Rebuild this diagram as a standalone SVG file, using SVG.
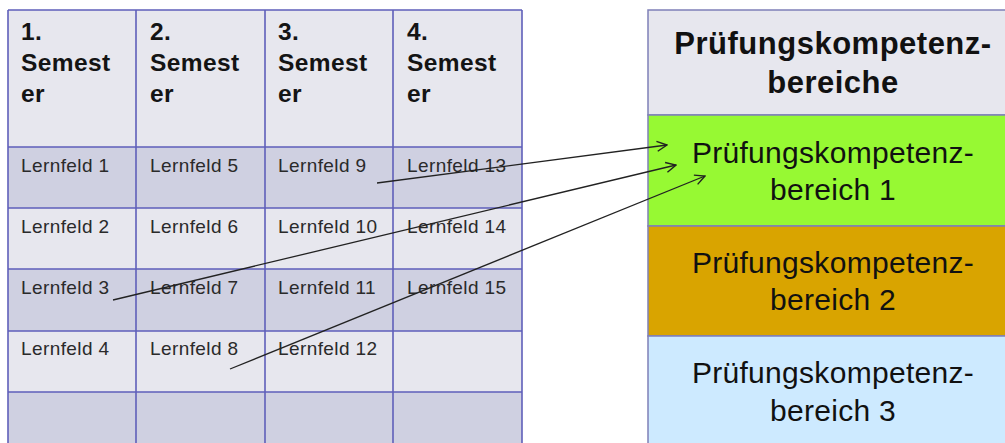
<svg xmlns="http://www.w3.org/2000/svg" width="1005" height="443" viewBox="0 0 1005 443">
  <defs>
    <style>
      .hd { fill: #e7e7ee; }
      .lt { fill: #e7e7ee; }
      .dk { fill: #cfd0e1; }
      .grid { stroke: #5f5fba; stroke-width: 1.6; fill: none; }
      .sem { font-family: "Liberation Sans", Arial, sans-serif; font-weight: bold; font-size: 24.5px; letter-spacing: 0.4px; fill: #141414; }
      .lf { font-family: "Liberation Sans", Arial, sans-serif; font-size: 19px; letter-spacing: 0.4px; fill: #2a2a2a; }
      .pkh { font-family: "Liberation Sans", Arial, sans-serif; font-weight: bold; font-size: 31px; letter-spacing: 0.5px; fill: #111; text-anchor: middle; }
      .pk { font-family: "Liberation Sans", Arial, sans-serif; font-size: 30px; letter-spacing: 0.3px; fill: #111; text-anchor: middle; }
      .box { stroke: #7f80b8; stroke-width: 1.5; }
      .conn { stroke: #222; stroke-width: 1.3; fill: none; marker-end: url(#arr); }
    </style>
    <marker id="arr" viewBox="0 0 12 12" refX="11" refY="6" markerWidth="12" markerHeight="12" markerUnits="userSpaceOnUse" orient="auto">
      <path d="M1,1 L11,6 L1,11" fill="none" stroke="#222" stroke-width="1.4"/>
    </marker>
  </defs>

  <g id="semester-table">
    <rect class="hd" x="8" y="10" width="514" height="137"/>
    <rect class="dk" x="8" y="147" width="514" height="61"/>
    <rect class="lt" x="8" y="208" width="514" height="61"/>
    <rect class="dk" x="8" y="269" width="514" height="62"/>
    <rect class="lt" x="8" y="331" width="514" height="61"/>
    <rect class="dk" x="8" y="392" width="514" height="60"/>
    <path class="grid" d="M8,10 H522 M8,147 H522 M8,208 H522 M8,269 H522 M8,331 H522 M8,392 H522 M8,10 V450 M136,10 V450 M265,10 V450 M393,10 V450 M522,10 V450"/>

    <g id="col1">
      <text class="sem" x="21" y="40">1.</text>
      <text class="sem" x="21" y="71">Semest</text>
      <text class="sem" x="21" y="102">er</text>
      <text class="lf" x="21" y="171.5">Lernfeld 1</text>
      <text class="lf" x="21" y="232.5">Lernfeld 2</text>
      <text class="lf" x="21" y="294">Lernfeld 3</text>
      <text class="lf" x="21" y="355">Lernfeld 4</text>
    </g>
    <g id="col2">
      <text class="sem" x="150" y="40">2.</text>
      <text class="sem" x="150" y="71">Semest</text>
      <text class="sem" x="150" y="102">er</text>
      <text class="lf" x="150" y="171.5">Lernfeld 5</text>
      <text class="lf" x="150" y="232.5">Lernfeld 6</text>
      <text class="lf" x="150" y="294">Lernfeld 7</text>
      <text class="lf" x="150" y="355">Lernfeld 8</text>
    </g>
    <g id="col3">
      <text class="sem" x="278" y="40">3.</text>
      <text class="sem" x="278" y="71">Semest</text>
      <text class="sem" x="278" y="102">er</text>
      <text class="lf" x="278" y="171.5">Lernfeld 9</text>
      <text class="lf" x="278" y="232.5">Lernfeld 10</text>
      <text class="lf" x="278" y="294">Lernfeld 11</text>
      <text class="lf" x="278" y="355">Lernfeld 12</text>
    </g>
    <g id="col4">
      <text class="sem" x="407" y="40">4.</text>
      <text class="sem" x="407" y="71">Semest</text>
      <text class="sem" x="407" y="102">er</text>
      <text class="lf" x="407" y="171.5">Lernfeld 13</text>
      <text class="lf" x="407" y="232.5">Lernfeld 14</text>
      <text class="lf" x="407" y="294">Lernfeld 15</text>
    </g>
  </g>

  <g id="pk-header">
    <rect class="box" x="648" y="10" width="380" height="105" fill="#e7e7ee"/>
    <text class="pkh" x="833" y="54">Prüfungskompetenz-</text>
    <text class="pkh" x="833" y="93">bereiche</text>
  </g>
  <g id="pk-1">
    <rect class="box" x="648" y="115" width="380" height="111" fill="#97f933"/>
    <text class="pk" x="833" y="163">Prüfungskompetenz-</text>
    <text class="pk" x="833" y="200">bereich 1</text>
  </g>
  <g id="pk-2">
    <rect class="box" x="648" y="226" width="380" height="110" fill="#d9a400"/>
    <text class="pk" x="833" y="273">Prüfungskompetenz-</text>
    <text class="pk" x="833" y="310">bereich 2</text>
  </g>
  <g id="pk-3">
    <rect class="box" x="648" y="336" width="380" height="120" fill="#cdeaff"/>
    <text class="pk" x="833" y="383">Prüfungskompetenz-</text>
    <text class="pk" x="833" y="421">bereich 3</text>
  </g>

  <g id="connectors">
    <line class="conn" x1="377" y1="183" x2="667" y2="145"/>
    <line class="conn" x1="113" y1="300" x2="676" y2="165"/>
    <line class="conn" x1="230" y1="369" x2="705" y2="176"/>
  </g>
</svg>
